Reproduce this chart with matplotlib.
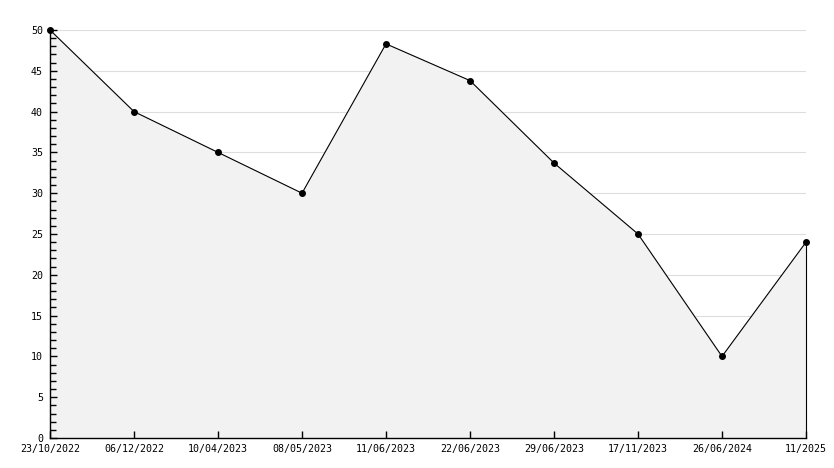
import matplotlib
matplotlib.use("Agg")
import matplotlib.pyplot as plt
from matplotlib.ticker import MultipleLocator

labels = ["23/10/2022", "06/12/2022", "10/04/2023", "08/05/2023", "11/06/2023",
          "22/06/2023", "29/06/2023", "17/11/2023", "26/06/2024", "11/2025"]
values = [50, 40, 35, 30, 48.3, 43.8, 33.7, 25, 10, 24]

fig = plt.figure(figsize=(8.34, 4.68), dpi=100)
ax = fig.add_axes([50/834, 1-438/468, (806-50)/834, (438-30)/468])
x = list(range(len(values)))
for g in range(5, 51, 5):
    ax.axhline(g, color="#dddddd", lw=0.8, zorder=0.1)
ax.fill_between(x, values, 0, color="#f2f2f2", zorder=1)
ax.plot([x[-1], x[-1]], [0, values[-1]], color="black", lw=0.8, zorder=4, clip_on=False)
ax.plot(x, values, color="black", lw=0.8, marker="o", markersize=4, zorder=5, clip_on=False)
ax.set_xlim(0, len(values)-1)
ax.set_ylim(0, 50)
ax.yaxis.set_major_locator(MultipleLocator(5))
ax.yaxis.set_minor_locator(MultipleLocator(1))
ax.set_xticks(x)
ax.set_xticklabels(labels)
for s in ["top", "right"]:
    ax.spines[s].set_visible(False)
for s in ["left", "bottom"]:
    ax.spines[s].set_linewidth(1.0)
    ax.spines[s].set_zorder(3)
ax.xaxis.set_zorder(3)
ax.yaxis.set_zorder(3)
ax.tick_params(axis="y", which="major", direction="in", length=5, width=1, labelsize=7.2, pad=5)
ax.tick_params(axis="y", which="minor", direction="in", length=4, width=1)
ax.tick_params(axis="x", direction="in", length=5, width=1, labelsize=7.2, pad=4)
for t in ax.get_xticklabels() + ax.get_yticklabels():
    t.set_family("DejaVu Sans Mono")
fig.savefig("out.png", dpi=100)
